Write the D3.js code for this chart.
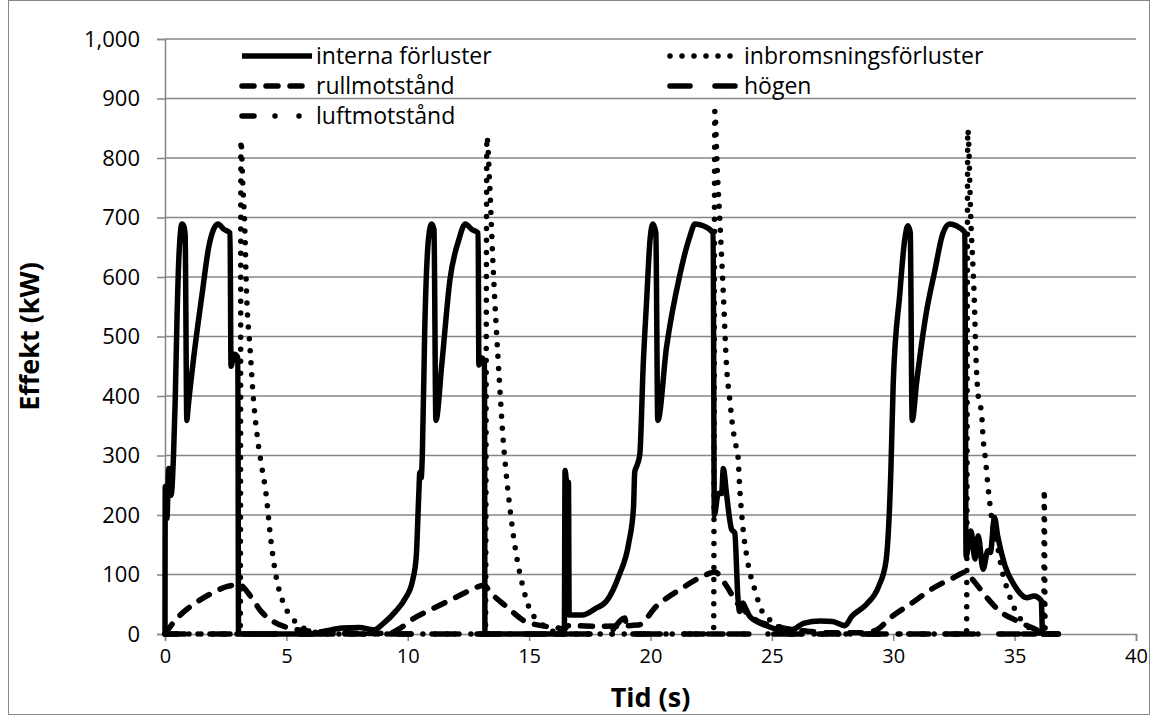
<!DOCTYPE html>
<html>
<head>
<meta charset="utf-8">
<script src="https://cdn.jsdelivr.net/npm/d3@7"></script>
<style>
  body { margin: 0; background: #fff; }
  svg { display: block; }
</style>
</head>
<body>
<div id="chart"></div>
<script>
// time (s) and power (kW), one pair of arrays per series
const internaT = [0, 0.01, 0.08, 0.15, 0.25, 0.35, 0.42, 0.5, 0.58, 0.7, 0.78, 0.83, 0.9, 0.95, 1.18, 1.53, 1.8, 2.0, 2.18, 2.43, 2.68, 2.72, 2.85, 3.0, 3.03,
  6.0, 6.6, 7.3, 8.0, 8.6, 9.0, 9.5, 9.9, 10.2, 10.35, 10.45, 10.5, 10.55, 10.6, 10.7, 10.85, 10.98, 11.08, 11.16, 11.4, 11.74, 12.1, 12.37, 12.64, 12.9, 12.93, 13.04, 13.16, 13.18,
  16.45, 16.48, 16.55, 16.62, 16.65, 17.2, 17.7, 18.2, 18.7, 19.1, 19.3, 19.35, 19.45, 19.56, 19.7, 19.84, 19.98, 20.1, 20.22, 20.3, 20.66, 21.2, 21.62, 21.83, 22.17, 22.58,
  22.63, 22.79, 22.93, 23.0, 23.13, 23.34, 23.47, 23.6, 23.67, 23.8, 23.9, 24.1, 24.78, 25.5, 25.9, 26.3, 27.0, 27.5, 28.0, 28.3, 28.9, 29.4, 29.7, 29.9, 30.0, 30.27, 30.47,
  30.6, 30.7, 30.78, 30.96, 31.37, 31.7, 32.05, 32.33, 32.6, 32.95, 33.0, 33.1, 33.2, 33.37, 33.5, 33.7, 33.9, 34.0, 34.17, 34.3, 34.6, 35.0, 35.5, 35.8, 36.1, 36.15, 36.8];
const internaV = [0, 248, 194, 278, 233, 300, 392, 540, 640, 689, 685, 670, 359, 380, 464, 572, 650, 680, 689, 680, 674, 450, 470, 465, 0,
  0, 5, 10, 11, 7, 18, 38, 60, 90, 130, 230, 272, 262, 300, 512, 662, 689, 680, 359, 452, 596, 662, 689, 680, 674, 452, 464, 458, 0,
  0, 275, 255, 255, 32, 32, 42, 56, 98, 152, 212, 272, 284, 302, 452, 560, 662, 689, 674, 359, 482, 602, 668, 689, 686, 674,
  200, 236, 236, 278, 236, 176, 170, 62, 38, 52, 45, 29, 14, 6, 8, 18, 22, 21, 14, 30, 50, 80, 122, 272, 422, 572, 662,
  686, 675, 359, 422, 542, 608, 674, 689, 686, 675, 131, 150, 173, 126, 165, 109, 140, 137, 196, 165, 115, 81, 61, 64, 56, 0, 0];

const inbromsT = [0, 3.1, 3.13, 3.2, 3.28, 3.36, 3.5, 3.65, 3.8, 3.95, 4.16, 4.36, 4.57, 4.84, 5.25, 5.66, 6.1, 6.5,
  13.2, 13.26, 13.38, 13.5, 13.65, 13.78, 13.92, 14.05, 14.26, 14.47, 14.74, 15.0, 15.43, 15.84, 16.3,
  22.6, 22.65, 22.75, 22.86, 23.0, 23.13, 23.27, 23.4, 23.5, 23.6, 23.68, 23.8, 24.0, 24.3, 24.6, 25.05, 25.7, 26.2,
  33.02, 33.07, 33.2, 33.33, 33.42, 33.5, 33.64, 33.7, 33.8, 33.9, 34.0, 34.1, 34.32, 34.5, 34.7, 35.0, 35.5, 35.9, 36.2, 36.22, 36.26, 36.8];
const inbromsV = [0, 0, 830, 760, 690, 572, 482, 392, 332, 290, 236, 158, 98, 56, 26, 11, 4, 0,
  0, 836, 752, 632, 512, 422, 332, 272, 194, 134, 80, 44, 20, 8, 0,
  0, 879, 780, 692, 572, 452, 392, 344, 320, 300, 242, 182, 122, 74, 38, 20, 5, 0,
  0, 848, 692, 572, 452, 400, 370, 330, 293, 249, 212, 182, 142, 103, 75, 42, 14, 3, 0, 243, 0, 0];

const rullT = [0, 0.1, 0.63, 1.18, 1.9, 2.57, 3.05, 3.55, 3.96, 4.5, 5.35, 5.9, 6.8, 7.5, 8.5, 9.3, 9.7, 10.2, 11.0, 11.85, 12.5, 13.15, 13.4, 14.1, 14.8, 15.5, 16.1, 16.45,
  16.6, 18.05, 19.5, 20.25, 21.3, 22.2, 22.65, 23.13, 23.55, 23.96, 24.4, 25.05, 25.75, 26.4, 27.5, 28.5, 29.2, 30.0, 30.8, 31.6, 32.5, 32.98, 33.3, 33.84, 34.4, 35.1, 35.8, 36.1, 36.5, 36.8];
const rullV = [0, 6, 32, 50, 68, 80, 83, 62, 38, 20, 8, 5, 3, 2, 1, 2, 10, 25, 42, 59, 72, 82, 70, 45, 22, 14, 11, 8,
  14, 13, 15, 47, 77, 98, 104, 81, 53, 36, 22, 14, 8, 5, 2, 2, 5, 31, 53, 76, 95, 104, 90, 62, 38, 22, 9, 4, 0, 0];

const hogenT = [0, 18.2, 18.95, 19.0, 19.48, 19.5, 36.8];
const hogenV = [0, 0, 27, 16, 16, 0, 0];

const luftT = [0, 36.8];
const luftV = [0, 0];

const yTicks = [0, 100, 200, 300, 400, 500, 600, 700, 800, 900, 1000];
const xTicks = [0, 5, 10, 15, 20, 25, 30, 35, 40];

const series = [
  { name: "interna förluster", t: internaT, v: internaV, dash: null, col: 0, row: 0 },
  { name: "inbromsningsförluster", t: inbromsT, v: inbromsV, dash: "0,12", col: 1, row: 0 },
  { name: "rullmotstånd", t: rullT, v: rullV, dash: "12,12", col: 0, row: 1 },
  { name: "högen", t: hogenT, v: hogenV, dash: "20,25", col: 1, row: 1 },
  { name: "luftmotstånd", t: luftT, v: luftV, dash: "12,21,0,24,0,21", col: 0, row: 2 },
];

const width = 1152, height = 716;
const font = "'Open Sans', sans-serif";
const grid = "#868686";

const svg = d3.select("#chart").append("svg")
  .attr("width", width)
  .attr("height", height)
  .attr("font-family", font);

svg.append("rect")
  .attr("x", 8.5).attr("y", 0.5)
  .attr("width", 1141).attr("height", 714)
  .attr("fill", "#fff")
  .attr("stroke", grid);

const x = d3.scaleLinear().domain([0, 40]).range([165, 1136]);
const y = d3.scaleLinear().domain([0, 1000]).range([634, 39]);

// horizontal grid
svg.append("g")
  .selectAll("line")
  .data(yTicks.slice(1))
  .join("line")
  .attr("x1", x(0)).attr("x2", x(40))
  .attr("y1", (d) => y(d)).attr("y2", (d) => y(d))
  .attr("stroke", grid)
  .attr("stroke-width", 1.5);

const yAxis = svg.append("g")
  .attr("transform", `translate(${x(0)},0)`)
  .call(d3.axisLeft(y).tickValues(yTicks).tickFormat(d3.format(",")).tickSize(8).tickPadding(17));

const xAxis = svg.append("g")
  .attr("transform", `translate(0,${y(0)})`)
  .call(d3.axisBottom(x).tickValues(xTicks).tickSize(7).tickPadding(8));

[yAxis, xAxis].forEach((g) => {
  g.select(".domain").attr("stroke", grid).attr("stroke-width", 1.5);
  g.selectAll(".tick line").attr("stroke", grid).attr("stroke-width", 1.5);
  g.selectAll("text").attr("fill", "#000").attr("font-family", font);
});
yAxis.selectAll("text").attr("font-size", 22);
xAxis.selectAll("text").attr("font-size", 20);

svg.append("text")
  .attr("transform", `translate(30,${(y(0) + y(1000)) / 2}) rotate(-90)`)
  .attr("text-anchor", "middle")
  .attr("dy", "0.35em")
  .attr("font-size", 27)
  .attr("font-weight", "bold")
  .text("Effekt (kW)");

svg.append("text")
  .attr("x", (x(0) + x(40)) / 2)
  .attr("y", 707)
  .attr("text-anchor", "middle")
  .attr("font-size", 27)
  .attr("font-weight", "bold")
  .text("Tid (s)");

const line = d3.line()
  .x((d) => x(d[0]))
  .y((d) => y(d[1]))
  .curve(d3.curveMonotoneX);

const plot = svg.append("g");
series.forEach((s) => {
  plot.append("path")
    .datum(s.t.map((t, i) => [t, s.v[i]]))
    .attr("d", line)
    .attr("fill", "none")
    .attr("stroke", "#000")
    .attr("stroke-width", 5.5)
    .attr("stroke-linecap", s.dash ? "round" : "butt")
    .attr("stroke-linejoin", "round")
    .attr("stroke-dasharray", s.dash);
});

// legend
const legCol = [240, 668];
const legRow = [56, 86, 116];
const leg = svg.append("g");
series.forEach((s) => {
  const lx = legCol[s.col], ly = legRow[s.row];
  leg.append("line")
    .attr("x1", lx + 2).attr("x2", lx + 72)
    .attr("y1", ly).attr("y2", ly)
    .attr("stroke", "#000")
    .attr("stroke-width", 5.5)
    .attr("stroke-linecap", s.dash ? "round" : "butt")
    .attr("stroke-dasharray", s.dash);
  leg.append("text")
    .attr("x", lx + 76)
    .attr("y", ly)
    .attr("dy", "0.35em")
    .attr("font-size", 23)
    .text(s.name);
});
</script>
</body>
</html>
